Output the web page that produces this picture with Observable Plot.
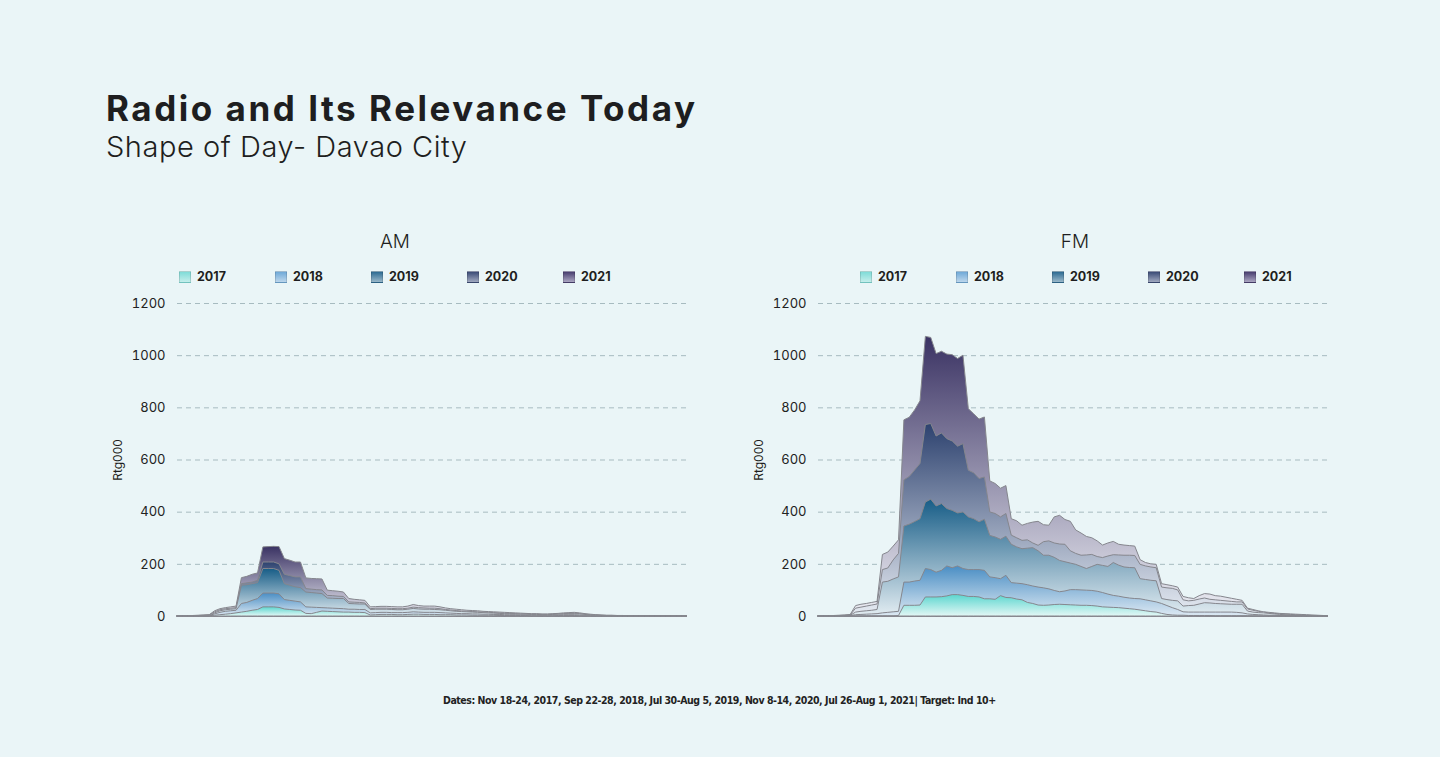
<!DOCTYPE html>
<html><head><meta charset="utf-8">
<script src="https://cdn.jsdelivr.net/npm/d3@7"></script>
<script src="https://cdn.jsdelivr.net/npm/@observablehq/plot@0.6"></script>
<style>
html,body{margin:0;padding:0;background:#eaf5f7;}
#page{position:relative;width:1440px;height:757px;background:#eaf5f7;font-family:Inter,"Noto Sans",sans-serif;color:#1e1e20;overflow:hidden}
.abs{position:absolute;line-height:1;white-space:nowrap}
.title{left:106px;top:91px;font-size:35px;font-weight:700;}
.subtitle{left:106px;top:132px;font-size:29px;font-weight:300;}
.panel{font-size:19px;font-weight:300;transform:translateX(-50%)}
.leg{font-size:12.5px;font-weight:700;display:flex;align-items:center}
.sw{width:12px;height:12px;margin-right:6px;box-sizing:border-box;border:1px solid rgba(0,0,0,0.12)}
.ylab{font-size:12px;font-weight:400;transform:translate(-50%,-50%) rotate(-90deg)}
.foot{left:443px;top:695px;font-family:"Liberation Sans Narrow","DejaVu Sans Condensed","Roboto Condensed",sans-serif;font-stretch:condensed;font-size:10.5px;font-weight:700;color:#222}
.chart{position:absolute;top:290px}
</style></head>
<body><div id="page">
<div class="abs title" id="title">Radio and Its Relevance Today</div>
<div class="abs subtitle" id="subtitle">Shape of Day- Davao City</div>
<div class="abs foot" id="foot">Dates: Nov 18-24, 2017, Sep 22-28, 2018, Jul 30-Aug 5, 2019, Nov 8-14, 2020, Jul 26-Aug 1, 2021| Target: Ind 10+</div>
</div>
<script>
const years = ["2017","2018","2019","2020","2021"];
const panels = ["AM","FM"];
const yTicks = [0,200,400,600,800,1000,1200];
const yLabel = "Rtg000";
const topColors = ["#5cd6cf","#4a8ec4","#175d87","#2d426f","#3a3263"];
const bottomColors = ["#e3f7f5","#dde9f3","#e3edf2","#e7ecf3","#eeeff5"];
const swatchTop = ["#7fdcd8","#6fa9d8","#2d6b93","#3b4c77","#493f70"];
const swatchBottom = ["#c4eeeb","#bcd6ec","#9ab8ca","#a1a9c0","#aba6c2"];

// time slots of the day (index order)
const slots = d3.range(96);

// AM values per year (Rtg000)
const am2017 = [0,0,0,0,0,0,1,3,5,7, 9,12,15,18,22,25,35,35,35,33, 27,25,23,22,10,9,14,19,18,17, 16,15,15,14,14,13,4,5,6,6, 6,5,5,6,7,7,6,6,6,5, 5,5,4,4,4,3,3,3,3,3, 2,2,2,2,2,2,1,1,1,1, 1,2,2,2,2,1,1,1,1,0, 0,0,0,0,0,0,0,0,0,0, 0,0,0,0,0,0];
const am2018 = [0,0,0,0,1,1,2,8,14,18, 20,22,48,52,60,67,88,88,88,85, 63,60,57,54,35,34,33,32,31,30, 29,28,26,26,25,25,12,13,14,14, 13,13,13,14,16,15,14,14,14,13, 12,11,10,9,9,8,8,7,7,6, 6,5,5,5,4,4,4,3,3,3, 4,4,5,5,5,4,3,2,2,1, 1,0,0,0,0,0,0,0,0,0, 0,0,0,0,0,0];
const am2019 = [0,0,0,1,1,2,3,12,20,24, 26,28,118,120,124,128,182,182,182,175, 124,118,112,109,92,90,88,86,69,68, 67,67,48,47,46,46,25,26,26,26, 25,24,24,26,29,27,26,26,25,24, 22,20,18,17,16,15,14,13,12,11, 10,9,9,8,7,7,6,6,5,5, 6,7,8,9,9,8,6,4,3,2, 2,1,1,1,0,0,0,0,0,0, 0,0,0,0,0,0];
const am2020 = [0,0,1,1,2,3,4,16,24,28, 30,32,124,127,130,137,207,207,207,200, 160,155,150,150,105,103,101,100,79,78, 76,75,54,53,52,50,28,30,30,30, 29,28,28,30,34,32,31,30,30,28, 25,23,21,19,18,17,16,15,14,13, 12,11,10,9,8,8,7,7,6,6, 7,8,9,10,11,9,7,5,4,3, 2,2,1,1,1,0,0,0,0,0, 0,0,0,0,0,0];
const am2021 = [0,0,1,2,3,4,5,20,28,32, 35,38,147,152,160,165,265,266,267,266, 220,214,207,207,146,144,143,142,99,97, 95,92,67,64,62,60,35,36,37,37, 36,35,35,38,44,40,38,38,38,35, 31,28,26,24,22,21,20,18,17,16, 15,14,13,12,11,10,9,9,8,8, 9,10,12,13,14,12,9,7,5,4, 3,3,2,2,1,1,1,1,1,1, 0,0,0,0,0,0];

// FM values per year (Rtg000)
const fm2017 = [0,0,0,0,0,0,0,0,0,0, 0,0,0,0,0,2,41,41,41,42, 73,73,73,74,77,82,82,79,75,75, 73,66,66,64,78,71,70,65,62,52, 48,42,41,42,44,45,44,43,42,41, 41,40,38,35,34,33,32,30,28,26, 23,20,17,15,10,6,4,3,3,2, 2,2,2,2,1,1,1,1,1,1, 1,0,0,0,0,0,0,0,0,0, 0,0,0,0,0,0];
const fm2018 = [0,0,0,0,1,1,2,5,6,7, 8,9,12,14,16,18,130,130,134,137, 182,178,168,175,192,185,192,182,178,178, 178,175,150,147,143,156,128,126,124,120, 115,111,108,104,98,93,96,101,101,100, 99,98,95,90,84,79,76,72,69,67, 66,62,58,54,48,40,32,25,16,15, 15,15,15,15,15,15,15,15,14,12, 8,6,5,4,3,3,2,2,2,1, 1,1,1,0,0,0];
const fm2019 = [0,0,0,1,1,2,3,15,18,20, 22,25,130,133,142,150,345,352,362,373, 437,448,422,431,412,405,395,399,380,373, 361,371,309,303,294,306,275,265,258,260, 262,250,233,233,225,213,208,203,198,190, 182,190,198,194,190,205,195,188,186,185, 143,140,137,135,67,63,60,58,38,40, 41,46,51,50,48,47,46,45,45,45, 19,15,13,12,10,8,6,5,4,3, 3,2,2,1,1,0];
const fm2020 = [0,0,1,1,2,3,4,30,34,38, 42,46,178,184,215,240,522,535,560,585, 734,738,690,702,680,671,651,661,559,549, 527,533,399,393,380,393,310,300,290,292, 280,271,285,288,280,276,275,250,240,233, 234,236,228,224,230,235,234,233,233,232, 198,192,188,185,111,108,106,100,62,58, 60,65,69,64,62,60,58,56,54,54, 27,22,18,15,12,10,8,7,6,5, 4,3,2,2,1,0];
const fm2021 = [0,0,1,2,3,4,6,40,45,48, 52,56,236,245,268,292,752,762,790,825, 1072,1068,1006,1015,1004,1002,987,1000,795,775, 755,763,518,508,490,500,373,365,348,355, 360,363,350,348,380,386,370,363,330,318, 305,300,288,272,280,286,275,272,270,268, 216,205,200,198,124,120,116,111,75,70, 67,78,86,84,78,76,72,68,64,60, 30,25,20,16,14,12,10,9,8,7, 6,5,4,3,2,0];

const amSeries = [am2017,am2018,am2019,am2020,am2021];
const fmSeries = [fm2017,fm2018,fm2019,fm2020,fm2021];

const page = document.getElementById("page");

// fit text runs to the widths they occupy in the reference
function fitWidth(el, target) {
  const n = el.textContent.length - 1;
  const w = el.getBoundingClientRect().width;
  el.style.letterSpacing = ((target - w) / n).toFixed(3) + "px";
}
fitWidth(document.getElementById("title"), 589);
fitWidth(document.getElementById("subtitle"), 361);
fitWidth(document.getElementById("foot"), 553);

function chart(id, series) {
  const defs = () => {
    const d = d3.create("svg:defs");
    years.forEach((yr,k) => {
      const g = d.append("linearGradient").attr("id", id+yr)
        .attr("x1",0).attr("y1",0).attr("x2",0).attr("y2",1);
      g.append("stop").attr("offset","0%").attr("stop-color", topColors[k]);
      g.append("stop").attr("offset","100%").attr("stop-color", bottomColors[k]);
    });
    return d.node();
  };
  const marks = [
    defs,
    Plot.gridY(yTicks, {stroke:"#a7bbc0", strokeOpacity:1, strokeDasharray:"5,4", strokeWidth:1})
  ];
  for (let k = years.length - 1; k >= 0; k--) {
    const rows = series[k].map((v,i) => ({slot: slots[i], v}));
    marks.push(Plot.areaY(rows, {x:"slot", y1:0, y2:"v", fill:`url(#${id}${years[k]})`,
      stroke:"#85868d", strokeWidth:1, strokeLinejoin:"round"}));
  }
  marks.push(Plot.axisY(yTicks, {tickSize:0, tickPadding:12, label:null, tickFormat:d3.format("d"), fontSize:13, fill:"#222"}));
  return Plot.plot({
    width:600, height:340, marginLeft:77, marginRight:13, marginTop:13, marginBottom:14,
    x:{domain:[0,95], axis:null},
    y:{domain:[0,1200], axis:null},
    style:{background:"transparent", fontFamily:"Inter, 'Noto Sans', sans-serif", overflow:"visible"},
    marks
  });
}

function addPanel(name, series, left, legendX, centerX) {
  const wrap = document.createElement("div");
  wrap.className = "chart";
  wrap.style.left = left + "px";
  wrap.appendChild(chart(name, series));
  page.appendChild(wrap);

  const t = document.createElement("div");
  t.className = "abs panel";
  t.style.left = centerX + "px"; t.style.top = "232px";
  t.textContent = name;
  page.appendChild(t);

  years.forEach((yr,k) => {
    const it = document.createElement("div");
    it.className = "abs leg";
    it.style.left = (legendX + 96*k) + "px"; it.style.top = "271px";
    const sw = document.createElement("span");
    sw.className = "sw";
    sw.style.background = `linear-gradient(${swatchTop[k]}, ${swatchBottom[k]})`;
    it.appendChild(sw);
    const lb = document.createElement("span");
    lb.textContent = yr;
    it.appendChild(lb);
    page.appendChild(it);
  });

  const yl = document.createElement("div");
  yl.className = "abs ylab";
  yl.style.left = (left + 18) + "px"; yl.style.top = "460px";
  yl.textContent = yLabel;
  page.appendChild(yl);
}

addPanel(panels[0], amSeries, 100, 179, 395);
addPanel(panels[1], fmSeries, 741, 860, 1075);
</script>
</body></html>
